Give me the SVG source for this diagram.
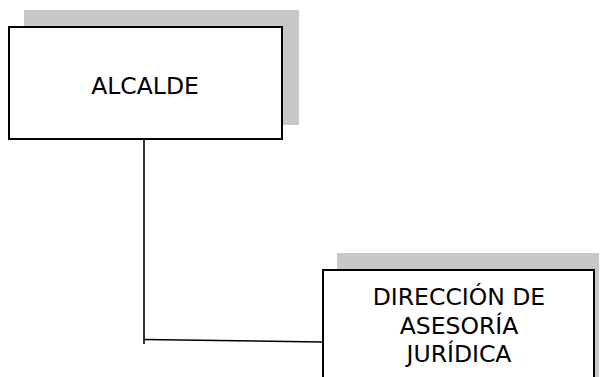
<svg xmlns="http://www.w3.org/2000/svg" width="602" height="377" viewBox="0 0 602 377">
<style>
.shadow{fill:#c8c8c8;stroke:none}
.box{fill:#fff;stroke:#000;stroke-width:2}
.lbl{font-family:"DejaVu Sans",Verdana,sans-serif;font-size:23.5px;fill:#000;text-anchor:middle}
.conn{fill:none;stroke:#000;stroke-width:1.6}
</style>
<rect width="602" height="377" fill="#fff"/>
<g id="connectors">
<polyline class="conn" points="144,140 144,344"/>
<line class="conn" x1="144" y1="339.5" x2="323" y2="342"/>
</g>
<g id="alcalde">
<rect class="shadow" x="24" y="10" width="275" height="115"/>
<rect class="box" x="9" y="27" width="273" height="112"/>
<text class="lbl" x="145" y="94">ALCALDE</text>
</g>
<g id="direccion">
<rect class="shadow" x="337" y="253" width="262" height="130"/>
<rect class="box" x="323" y="270" width="271" height="120"/>
<text class="lbl" x="459" y="305">DIRECCIÓN DE</text>
<text class="lbl" x="459" y="334">ASESORÍA</text>
<text class="lbl" x="459" y="362">JURÍDICA</text>
</g>
</svg>
